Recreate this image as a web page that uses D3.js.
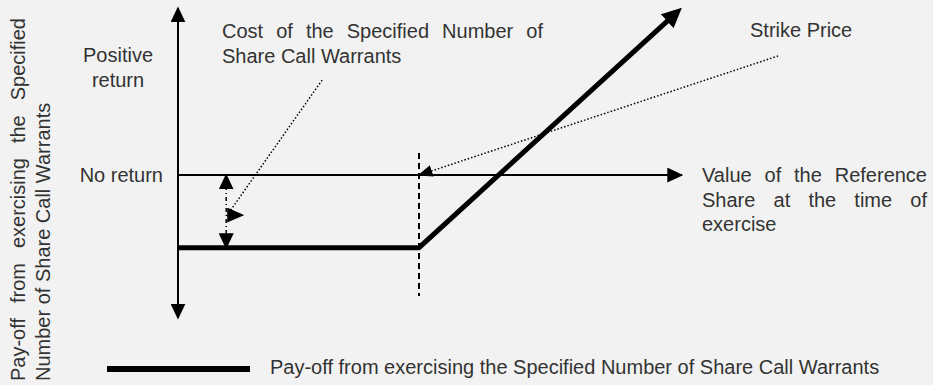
<!DOCTYPE html>
<html>
<head>
<meta charset="utf-8">
<script src="https://cdn.jsdelivr.net/npm/d3@7"></script>
<style>
  html, body { margin: 0; padding: 0; background: #f2f2f2; }
  svg { display: block; }
  text { font-family: "Liberation Sans", Arial, sans-serif; font-size: 20px; fill: #333; }
</style>
</head>
<body>
<script>
// share value at exercise vs pay-off (arbitrary units)
const shareValue = [0, 50, 102.7]
const payoff = [-16.5, -16.5, 36.2]
const strike = 50
const premium = 16.5
const xAxisEnd = 104.5
const yAxisEnds = [-32.5, 38]
const strikeGuide = [5, -27.5]
const costAt = 10

// annotation leaders: [share value, pay-off]
const strikeLeader = [[124.5, 27.1], [strike, 0]]
const costLeader = [[29.9, 21.6], [10.2, -9.1]]

const yLabels = ['Positive return', 'No return']
const axisTitleX = ['Value of the Reference', 'Share at the time of', 'exercise']
const axisTitleY = ['Pay-off from exercising the Specified', 'Number of Share Call Warrants']
const costLabel = ['Cost of the Specified Number of', 'Share Call Warrants']
const strikeLabel = 'Strike Price'
const legendLabel = 'Pay-off from exercising the Specified Number of Share Call Warrants'

const W = 933, H = 385

const x = d3.scaleLinear().domain([0, 100]).range([178, 660])
const y = d3.scaleLinear().domain(yAxisEnds).range([318, 8])

const svg = d3.select('body').append('svg')
  .attr('width', W).attr('height', H)

svg.append('rect').attr('width', W).attr('height', H).attr('fill', '#f2f2f2')

const defs = svg.append('defs')
function marker(id, len, wid, refX, orient){
  defs.append('marker')
    .attr('id', id)
    .attr('viewBox', '0 0 10 10')
    .attr('refX', refX).attr('refY', 5)
    .attr('markerUnits', 'userSpaceOnUse')
    .attr('markerWidth', len).attr('markerHeight', wid)
    .attr('orient', orient)
    .attr('preserveAspectRatio', 'none')
    .append('path').attr('d', 'M0,0L10,5L0,10Z').attr('fill', '#000')
}
marker('ax', 16, 15, 9, 'auto-start-reverse')
marker('big', 20, 19, 4, 'auto')
marker('small', 15, 12, 9, 'auto')
marker('side', 17, 15, 0, '0')

const line = d3.line().x(d => x(d[0])).y(d => y(d[1]))

// axes
svg.append('path')
  .attr('d', line([[0, yAxisEnds[0]], [0, yAxisEnds[1]]]))
  .attr('stroke', '#000').attr('stroke-width', 2).attr('fill', 'none')
  .attr('marker-start', 'url(#ax)').attr('marker-end', 'url(#ax)')

svg.append('path')
  .attr('d', line([[0, 0], [xAxisEnd, 0]]))
  .attr('stroke', '#000').attr('stroke-width', 2).attr('fill', 'none')
  .attr('marker-end', 'url(#ax)')

// strike guide
svg.append('path')
  .attr('d', line([[strike, strikeGuide[0]], [strike, strikeGuide[1]]]))
  .attr('stroke', '#000').attr('stroke-width', 2).attr('stroke-dasharray', '6 4')

// cost double arrow
svg.append('path')
  .attr('d', line([[costAt, 0], [costAt, -premium]]))
  .attr('stroke', '#000').attr('stroke-width', 1.5).attr('stroke-dasharray', '4 3 1 3')
  .attr('marker-start', 'url(#ax)').attr('marker-end', 'url(#ax)')

// payoff
svg.append('path')
  .attr('d', line(shareValue.map((s, i) => [s, payoff[i]])))
  .attr('stroke', '#000').attr('stroke-width', 5).attr('fill', 'none')
  .attr('stroke-linejoin', 'miter')
  .attr('marker-end', 'url(#big)')

// leaders
svg.append('path')
  .attr('d', line(strikeLeader))
  .attr('stroke', '#000').attr('stroke-width', 1.5).attr('stroke-dasharray', '1.5 2')
  .attr('marker-end', 'url(#small)')

svg.append('path')
  .attr('d', line(costLeader))
  .attr('stroke', '#000').attr('stroke-width', 1.5).attr('stroke-dasharray', '1.5 2')
  .attr('marker-end', 'url(#side)')

// justified text by word spacing
function justify(g, str, x0, width, base){
  let words = str.split(' ')
  let nodes = words.map(w => g.append('text').attr('y', base).text(w))
  let widths = nodes.map(n => n.node().getComputedTextLength())
  let gap = (width - d3.sum(widths)) / (words.length - 1)
  let pos = x0
  nodes.forEach((n, i) => { n.attr('x', pos); pos += widths[i] + gap })
}

// left labels
const pr = yLabels[0].split(' ')
svg.append('text').attr('x', 118).attr('y', 62).attr('text-anchor', 'middle').text(pr[0])
svg.append('text').attr('x', 118).attr('y', 87).attr('text-anchor', 'middle').text(pr[1])
svg.append('text').attr('x', 163).attr('y', 182).attr('text-anchor', 'end').text(yLabels[1])

// cost label
justify(svg, costLabel[0], 222, 321, 38)
svg.append('text').attr('x', 222).attr('y', 63).text(costLabel[1])

// strike label
svg.append('text').attr('x', 750).attr('y', 37).text(strikeLabel)

// x axis title
justify(svg, axisTitleX[0], 702, 225, 182)
justify(svg, axisTitleX[1], 702, 225, 207)
svg.append('text').attr('x', 702).attr('y', 231).text(axisTitleX[2])

// y axis title
const yt = svg.append('g').attr('transform', 'translate(0,381) rotate(-90)')
justify(yt, axisTitleY[0], 0, 363, 25)
yt.append('text').attr('x', 0).attr('y', 50).text(axisTitleY[1])

// legend
svg.append('line')
  .attr('x1', 107).attr('x2', 250).attr('y1', 369).attr('y2', 369)
  .attr('stroke', '#000').attr('stroke-width', 6)
svg.append('text').attr('x', 270).attr('y', 374).text(legendLabel)
</script>
</body>
</html>
